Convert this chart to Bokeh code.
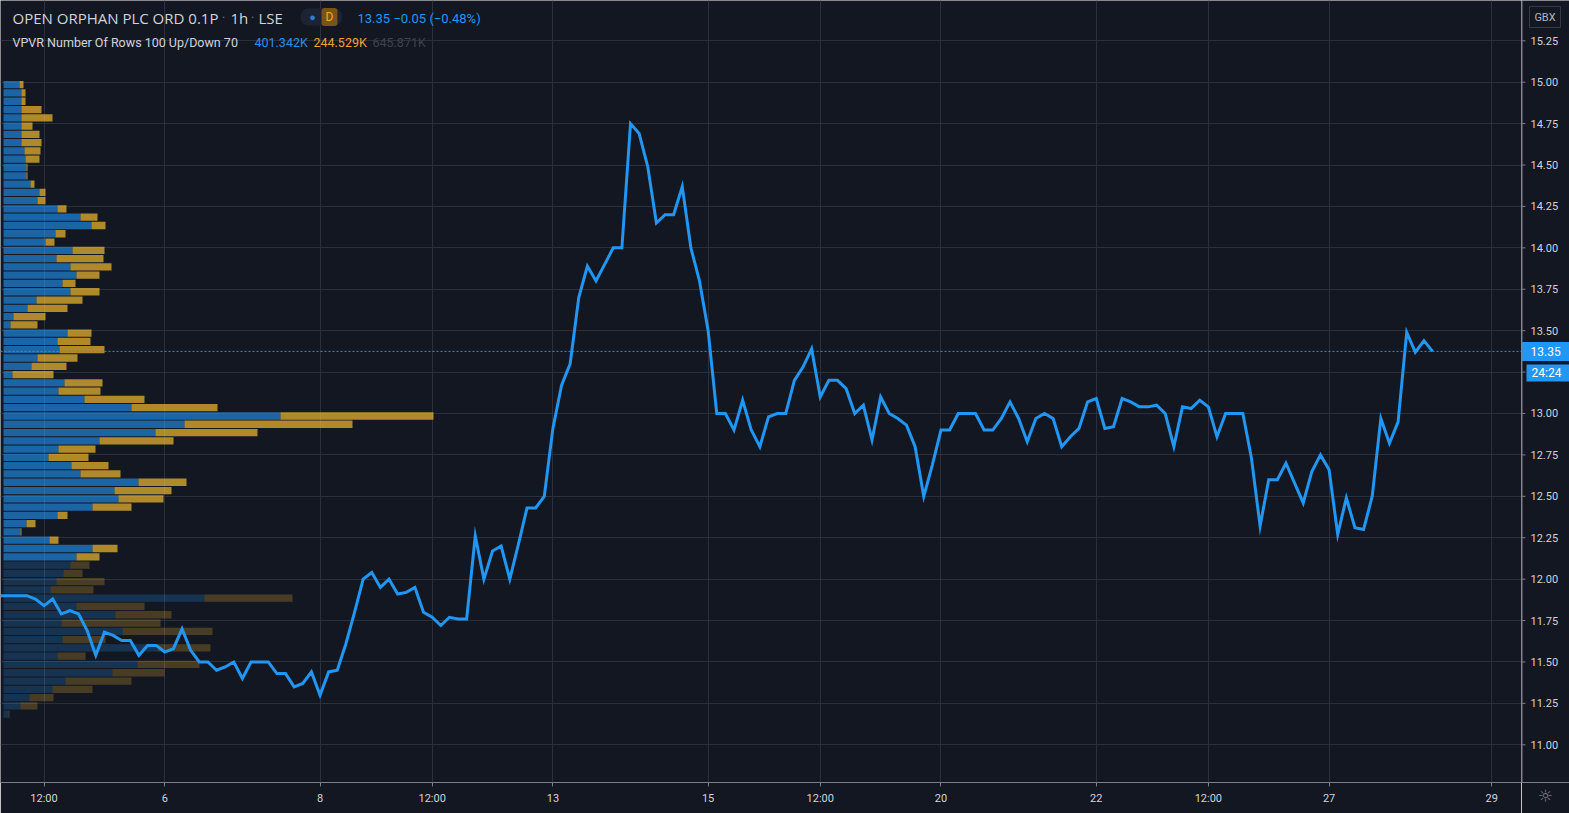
from bokeh.plotting import figure
from bokeh.layouts import row
from bokeh.models import Range1d, FixedTicker, Span, Label
from bokeh.core.properties import value
from bokeh.embed import file_html
from bokeh.resources import INLINE

# ---------------- data ----------------
# hourly closes (one per trading-hour bar), first bar index = -19 (bar 0 = Mon 6, 08:00)
bar_start = -19
close = [
    11.90, 11.90, 11.90, 11.90, 11.88, 11.84, 11.88, 11.79, 11.81, 11.79,
    11.69, 11.54, 11.68, 11.66, 11.63, 11.63, 11.54, 11.60, 11.60,
    11.56, 11.58, 11.70, 11.57, 11.50, 11.50, 11.45, 11.47, 11.50, 11.40,
    11.50, 11.50, 11.50, 11.43, 11.43, 11.35, 11.37, 11.44, 11.30, 11.44,
    11.45, 11.61, 11.80, 12.00, 12.04, 11.95, 12.00, 11.91, 11.92, 11.95,
    11.80, 11.77, 11.72, 11.77, 11.76, 11.76, 12.26, 12.00, 12.17, 12.20,
    12.00, 12.21, 12.43, 12.43, 12.50, 12.91, 13.17, 13.30, 13.70, 13.89,
    13.80, 13.90, 14.00, 14.00, 14.75, 14.69, 14.49, 14.15, 14.20, 14.20,
    14.37, 14.00, 13.80, 13.50, 13.00, 13.00, 12.90, 13.08, 12.90, 12.80,
    12.98, 13.00, 13.00, 13.20, 13.28, 13.39, 13.10, 13.20, 13.20, 13.15,
    13.00, 13.05, 12.84, 13.10, 13.00, 12.97, 12.93, 12.80, 12.50, 12.69,
    12.90, 12.90, 13.00, 13.00, 13.00, 12.90, 12.90, 12.97, 13.07, 12.97,
    12.83, 12.97, 13.00, 12.97, 12.80, 12.86, 12.91, 13.07, 13.09, 12.91,
    12.92, 13.09, 13.07, 13.04, 13.04, 13.05, 13.00, 12.80, 13.04, 13.03,
    13.08, 13.04, 12.86, 13.00, 13.00, 13.00, 12.73, 12.32, 12.60, 12.60,
    12.70, 12.58, 12.46, 12.65, 12.75, 12.66, 12.27, 12.49, 12.31, 12.30,
    12.50, 12.97, 12.82, 12.95, 13.49, 13.37, 13.44, 13.375,
]
bar_index = list(range(bar_start, bar_start + len(close)))
last_price_text = "13.35"
countdown_text = "24:24"

time_tick_pos = [-14, 0, 18, 31, 45, 63, 76, 90, 108, 121, 135, 153.85]
time_tick_labels = ["12:00", "6", "8", "12:00", "13", "15", "12:00", "20", "22", "12:00", "27", "29"]
price_ticks = [11.00, 11.25, 11.50, 11.75, 12.00, 12.25, 12.50, 12.75,
               13.00, 13.25, 13.50, 13.75, 14.00, 14.25, 14.50, 14.75, 15.00, 15.25]

# Volume profile (VPVR) rows, from the top row (15.01 - 14.96) downwards, step 0.05
vp_top = 15.01
vp_step = 0.05
vp_up = [16, 18, 18, 18, 18, 18, 18, 18, 21, 22,
         23, 23, 27, 36, 34, 54, 77, 88, 52, 42,
         69, 53, 67, 73, 59, 67, 33, 24, 10, 7,
         64, 54, 56, 34, 28, 9, 61, 55, 81, 128,
         277, 181, 152, 96, 55, 45, 68, 77, 135, 111,
         115, 89, 54, 23, 17, 46, 89, 73, 67, 60,
         53, 47, 201, 73, 112, 58, 119, 59, 154, 54,
         134, 109, 62, 49, 26, 17, 5]
vp_down = [4, 4, 4, 20, 31, 11, 18, 20, 16, 14,
           1, 1, 4, 6, 8, 9, 17, 14, 10, 9,
           32, 47, 41, 23, 13, 29, 46, 40, 32, 27,
           24, 33, 45, 40, 35, 41, 38, 42, 60, 86,
           153, 168, 102, 74, 37, 40, 37, 40, 48, 57,
           45, 39, 10, 9, 1, 9, 25, 23, 19, 19,
           48, 43, 88, 68, 56, 99, 90, 43, 53, 28,
           62, 52, 66, 40, 24, 17, 1]
value_area_rows = 58   # rows 0..57 are inside the 70% value area

# ---------------- styling ----------------
BG = "#131722"
GRID = "#2c303c"
AXIS = "#7b7e89"
TXT = "#d1d4dc"
BLUE = "#2196f3"
FONT = "Roboto"

W_MAIN, W_SCALE, H, H_TIME = 1521, 48, 813, 31
Y0, Y1 = 10.7724, 15.4932
PPU = (H - H_TIME) / (Y1 - Y0)  # pixels per GBX

p = figure(width=W_MAIN, height=H, output_backend="svg", toolbar_location=None,
           x_range=Range1d(-19.05, 157.31), y_range=Range1d(Y0, Y1),
           y_axis_location=None,
           min_border_left=0, min_border_top=0, min_border_right=0, min_border_bottom=H_TIME)
p.background_fill_color = BG
p.border_fill_color = BG
p.outline_line_color = None
p.extra_x_ranges = {"vp": Range1d(-3, W_MAIN - 3)}

# time axis
p.xaxis.ticker = FixedTicker(ticks=time_tick_pos)
p.xaxis.major_label_overrides = dict(zip(time_tick_pos, time_tick_labels))
ax = p.xaxis[0]
ax.axis_line_color = AXIS
ax.major_tick_line_color = AXIS
ax.major_tick_out = 4
ax.major_tick_in = 0
ax.minor_tick_line_color = None
ax.major_label_text_color = TXT
ax.major_label_text_font = FONT
ax.major_label_text_font_size = "11px"
ax.major_label_standoff = 5
p.xgrid.grid_line_color = GRID
p.ygrid.ticker = FixedTicker(ticks=price_ticks)
p.ygrid.grid_line_color = GRID

# volume profile bars
centers = [vp_top - vp_step / 2 - vp_step * k for k in range(len(vp_up))]
tot = [u + d for u, d in zip(vp_up, vp_down)]
alpha_u = [0.62 if k < value_area_rows else 0.23 for k in range(len(vp_up))]
alpha_d = [0.68 if k < value_area_rows else 0.23 for k in range(len(vp_up))]
p.hbar(y=centers, left=0, right=vp_up, height=0.044, x_range_name="vp",
       fill_color=BLUE, fill_alpha=alpha_u, line_color=None)
p.hbar(y=centers, left=vp_up, right=tot, height=0.044, x_range_name="vp",
       fill_color="#fbc02d", fill_alpha=alpha_d, line_color=None)

last_close = close[-1]
p.add_layout(Span(location=last_close, dimension="width", line_color=BLUE,
                  line_width=1, line_dash="2 2"))
p.line(bar_index, close, line_color=BLUE, line_width=3, line_join="miter")


# ---------------- header texts (screen units: x from frame left, y from frame bottom) ----------------
def lab(text, px, py, size, color, align="left", font=FONT, **kw):
    p.add_layout(Label(text=text, x=px, y=(H - H_TIME) - py, x_units="screen", y_units="screen",
                       text_font=font, text_font_size=size, text_color=color,
                       text_align=align, text_baseline="middle", **kw))


lab("OPEN ORPHAN PLC ORD 0.1P", 12, 17, "15px", TXT, font="Open Sans")
lab("\u00b7", 223, 17, "14px", "#6a6d78", "center")
lab("1h", 230, 17, "15px", TXT, font="Open Sans")
lab("\u00b7", 252, 17, "14px", "#6a6d78", "center")
lab("LSE", 258, 17, "15px", TXT, font="Open Sans")
lab("\u2003\u2003\u2003", 300, 16.5, "13px", TXT, background_fill_color="#1c2433",
    border_radius=8, padding=1)
lab("\u25cf", 312, 16.5, "11px", "#2a7fd6", "center")
lab("D", 329, 16.5, "12px", "#f5a623", "center", background_fill_color="#7a5417",
    border_radius=3, padding=dict(left=4, right=4, top=2, bottom=2))
lab("13.35 \u22120.05 (\u22120.48%)", 357, 18, "13px", BLUE)
lab("VPVR Number Of Rows 100 Up/Down 70", 12, 42, "12.5px", TXT)
lab("401.342K", 254, 42, "12.5px", "#2b8fe6")
lab("244.529K", 313, 42, "12.5px", "#eea52c")
lab("645.871K", 372, 42, "12.5px", "#3e424d")

# ---------------- price scale (separate strip sharing the price range) ----------------
s = figure(width=W_SCALE, height=H, output_backend="svg", toolbar_location=None,
           x_range=Range1d(0, W_SCALE), y_range=p.y_range,
           x_axis_location="below", y_axis_location=None,
           min_border_left=0, min_border_top=0, min_border_right=0, min_border_bottom=H_TIME)
s.background_fill_color = BG
s.border_fill_color = BG
s.outline_line_color = None
s.xgrid.grid_line_color = None
s.ygrid.grid_line_color = None
sx = s.xaxis[0]
sx.ticker = FixedTicker(ticks=[])
sx.axis_line_color = AXIS
sx.major_tick_line_color = None
sx.minor_tick_line_color = None
sx.major_label_text_font_size = "0px"
sx.axis_label = "\u263c"
sx.axis_label_text_font = "DejaVu Sans"
sx.axis_label_text_font_style = "normal"
sx.axis_label_text_font_size = "17px"
sx.axis_label_text_color = AXIS
sx.axis_label_standoff = 3

s.add_layout(Span(location=0.5, dimension="height", line_color=AXIS, line_width=1))
s.segment(x0=0, x1=4, y0=price_ticks, y1=price_ticks, line_color=AXIS, line_width=1)
s.text(x=9, y=price_ticks, text=["%.2f" % t for t in price_ticks], text_baseline="middle",
       text_font=value(FONT), text_font_size="11px", text_color=TXT)

# last price badge + countdown badge
s.quad(left=0, right=W_SCALE, bottom=last_close - 9.5 / PPU, top=last_close + 9.5 / PPU,
       fill_color=BLUE, line_color=None)
s.text(x=9, y=last_close, text=[last_price_text], text_baseline="middle",
       text_font=value(FONT), text_font_size="12px", text_color="#ffffff")
s.quad(left=5, right=W_SCALE, top=last_close - 13 / PPU, bottom=last_close - 30 / PPU,
       fill_color=BLUE, line_color=None)
s.text(x=10, y=last_close - 21.5 / PPU, text=[countdown_text], text_baseline="middle",
       text_font=value(FONT), text_font_size="12px", text_color="#ffffff")

# currency box
s.quad(left=8, right=39, top=Y1 - 6 / PPU, bottom=Y1 - 27 / PPU,
       fill_color=None, line_color="#363a45", line_width=1)
s.text(x=23.5, y=Y1 - 16.5 / PPU, text=["GBX"], text_baseline="middle", text_align="center",
       text_font=value(FONT), text_font_size="11px", text_color="#b2b5be")

layout = row(p, s, spacing=0)
open("out.html", "w").write(file_html(layout, INLINE))
